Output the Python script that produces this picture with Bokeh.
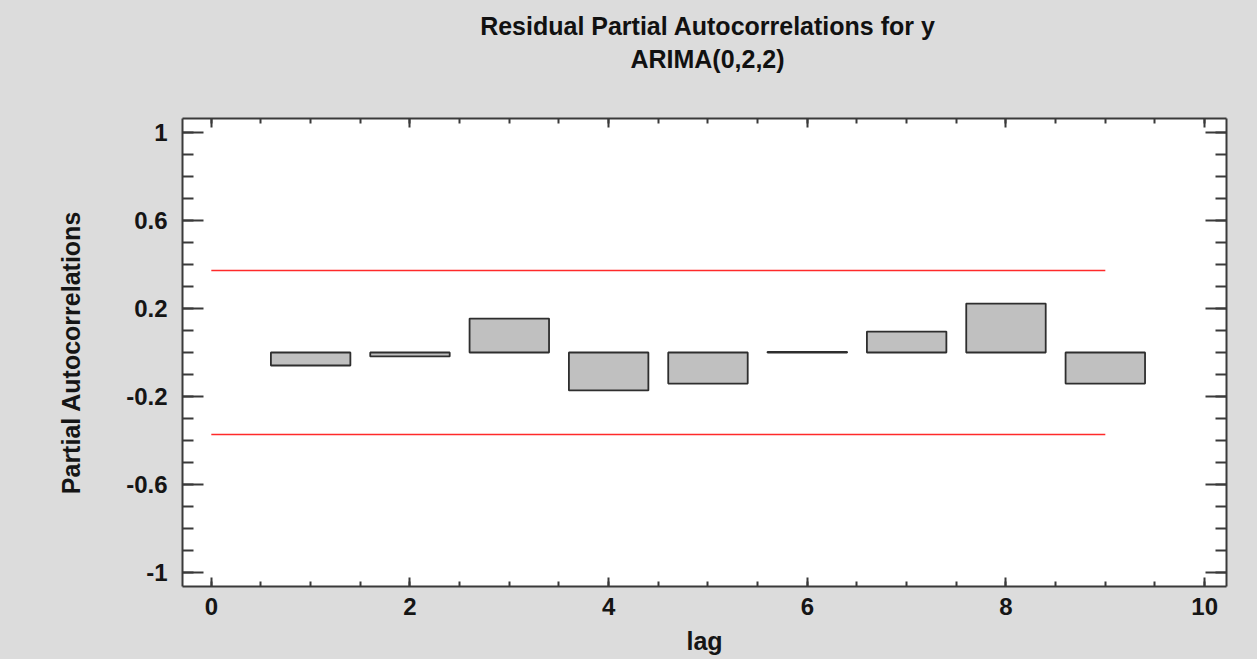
from bokeh.plotting import figure
from bokeh.models import (LinearAxis, FixedTicker, Range1d, CustomJSTickFormatter, Div)
from bokeh.layouts import column
from bokeh.embed import file_html
from bokeh.resources import INLINE

# ---- data ----
title_line1 = "Residual Partial Autocorrelations for y"
title_line2 = "ARIMA(0,2,2)"
x_label = "lag"
y_label = "Partial Autocorrelations"
lags = [1, 2, 3, 4, 5, 6, 7, 8, 9]
pacf = [-0.059, -0.018, 0.154, -0.172, -0.141, 0.003, 0.095, 0.222, -0.141]
limit_upper = 0.372
limit_lower = -0.372
limit_x = [0, 9]
x_ticks = [0, 2, 4, 6, 8, 10]
x_minor = [i * 0.5 for i in range(0, 21)]
y_ticks = [-1, -0.6, -0.2, 0.2, 0.6, 1]
y_tick_labels = ["-1", "-0.6", "-0.2", "0.2", "0.6", "1"]
y_minor = [round(-1.0 + i * 0.1, 1) for i in range(0, 21)]

FONT = "Liberation Sans"
BG = "#dcdcdc"
AX = "#3a3a3a"
HEAD = 90

header = Div(
    text=('<div style="font-family:\'Liberation Sans\';font-weight:bold;font-size:25px;'
          'line-height:33px;text-align:center;color:#111111;padding-top:10px;'
          'padding-left:182px;padding-right:24px;box-sizing:border-box;width:1257px">'
          f'{title_line1}<br>{title_line2}</div>'),
    width=1257, height=HEAD, margin=0,
    styles={"background-color": BG})

p = figure(width=1257, height=659 - HEAD, output_backend="svg", toolbar_location=None,
           x_range=Range1d(-0.29, 10.22), y_range=Range1d(-1.062, 1.062),
           x_axis_location=None, y_axis_location=None, margin=0,
           min_border_left=182, min_border_right=31, min_border_top=118 - HEAD,
           min_border_bottom=73)
p.background_fill_color = "white"
p.border_fill_color = BG
p.outline_line_color = None
p.xgrid.visible = False
p.ygrid.visible = False


def style_axis(ax, major_in, minor_in):
    ax.axis_line_color = AX
    ax.axis_line_width = 2
    ax.major_tick_line_color = AX
    ax.major_tick_line_width = 2
    ax.minor_tick_line_color = AX
    ax.minor_tick_line_width = 2
    ax.major_tick_in = major_in
    ax.major_tick_out = 0
    ax.minor_tick_in = minor_in
    ax.minor_tick_out = 0
    ax.major_label_text_font = FONT
    ax.major_label_text_font_style = "bold"
    ax.major_label_text_font_size = "24px"
    ax.major_label_text_color = "#151515"
    ax.axis_label_text_font = FONT
    ax.axis_label_text_font_style = "bold"
    ax.axis_label_text_font_size = "25px"
    ax.axis_label_text_color = "#151515"


blank = CustomJSTickFormatter(code="return ''")

# bottom
xb = LinearAxis(ticker=FixedTicker(ticks=x_ticks, minor_ticks=x_minor), axis_label=x_label)
style_axis(xb, 9, 5)
xb.major_label_standoff = 11
xb.axis_label_standoff = 9
p.add_layout(xb, "below")
# top
xt = LinearAxis(ticker=FixedTicker(ticks=x_ticks, minor_ticks=x_minor), formatter=blank)
style_axis(xt, 9, 5)
xt.major_label_standoff = 0
p.add_layout(xt, "above")
# left
yl = LinearAxis(ticker=FixedTicker(ticks=y_ticks, minor_ticks=y_minor), axis_label=y_label,
                major_label_overrides={t: s for t, s in zip(y_ticks, y_tick_labels)})
style_axis(yl, 21, 11)
yl.major_label_standoff = 15
yl.axis_label_standoff = 38
p.add_layout(yl, "left")
# right
yr = LinearAxis(ticker=FixedTicker(ticks=y_ticks, minor_ticks=y_minor), formatter=blank)
style_axis(yr, 21, 11)
yr.major_label_standoff = 0
p.add_layout(yr, "right")

# bars
p.vbar(x=lags, top=pacf, bottom=0, width=0.8, fill_color="#c0c0c0",
       line_color="#2e2e2e", line_width=1.8)

# limits
p.line(x=limit_x, y=[limit_upper] * 2, line_color="#ff2a2a", line_width=1.6)
p.line(x=limit_x, y=[limit_lower] * 2, line_color="#ff2a2a", line_width=1.6)

layout = column(header, p, spacing=0, margin=0, styles={"background-color": BG})

open("out.html", "w").write(file_html(layout, INLINE))
